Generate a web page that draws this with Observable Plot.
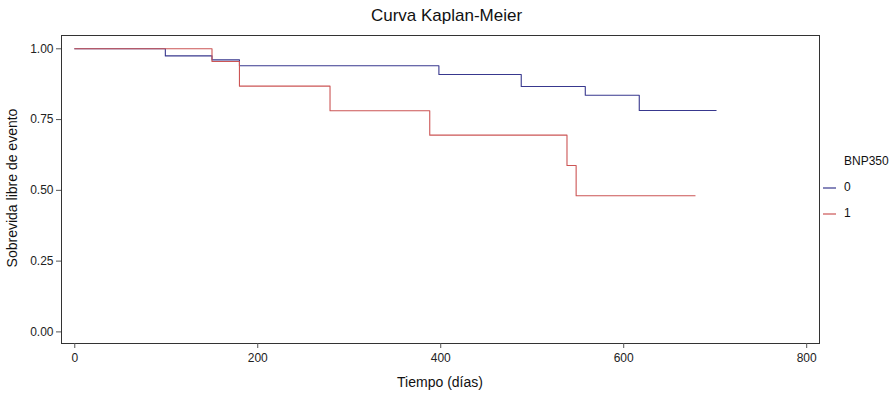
<!DOCTYPE html>
<html>
<head>
<meta charset="utf-8">
<script src="https://cdn.jsdelivr.net/npm/d3@7"></script>
<script src="https://cdn.jsdelivr.net/npm/@observablehq/plot@0.6"></script>
<style>
  html, body { margin: 0; padding: 0; background: #fff; }
  #wrap { position: relative; width: 893px; height: 401px; font-family: "Liberation Sans", Arial, sans-serif; color: #111; }
  .ov { position: absolute; white-space: nowrap; }
</style>
</head>
<body>
<div id="wrap"></div>
<script>
// Kaplan-Meier step data
const group0Time = [0, 99, 150, 180, 398, 488, 558, 617, 701];
const group0Surv = [1.0, 0.975, 0.961, 0.940, 0.909, 0.867, 0.836, 0.782, 0.782];
const group1Time = [0, 150, 180, 279, 388, 538, 548, 678];
const group1Surv = [1.0, 0.955, 0.868, 0.781, 0.695, 0.588, 0.481, 0.481];
const groups = ["0", "1"];
const groupColors = ["#38388e", "#cc5555"];
const xTicks = [0, 200, 400, 600, 800];
const yTicks = [0, 0.25, 0.5, 0.75, 1];
const titleText = "Curva Kaplan-Meier";
const xLabel = "Tiempo (días)";
const yLabel = "Sobrevida libre de evento";
const legendTitle = "BNP350";

const rows0 = group0Time.map((t, i) => ({t, s: group0Surv[i], g: groups[0]}));
const rows1 = group1Time.map((t, i) => ({t, s: group1Surv[i], g: groups[1]}));

const plot = Plot.plot({
  width: 893,
  height: 401,
  marginLeft: 61,
  marginRight: 74,
  marginTop: 35,
  marginBottom: 58,
  style: {fontFamily: '"Liberation Sans", Arial, sans-serif', fontSize: "12px", color: "#222", background: "#fff"},
  x: {domain: [-14.5, 814]},
  y: {domain: [-0.041, 1.047]},
  color: {domain: groups, range: groupColors},
  marks: [
    Plot.frame({stroke: "#333"}),
    Plot.axisX({ticks: xTicks, tickFormat: d => String(d), label: null, tickSize: 5, tickPadding: 5, stroke: "#555", fontSize: 12}),
    Plot.axisY({ticks: yTicks, tickFormat: d3.format(".2f"), label: null, tickSize: 5, tickPadding: 3, stroke: "#555", fontSize: 12}),
    Plot.line(rows0, {x: "t", y: "s", z: "g", stroke: "g", curve: "step-after", strokeWidth: 1.1}),
    Plot.line(rows1, {x: "t", y: "s", z: "g", stroke: "g", curve: "step-after", strokeWidth: 1.1})
  ]
});

const wrap = document.getElementById("wrap");
wrap.appendChild(plot);
plot.style.position = "absolute";
plot.style.left = "0px";
plot.style.top = "0px";

function addText(text, css) {
  const d = document.createElement("div");
  d.className = "ov";
  d.textContent = text;
  Object.assign(d.style, css);
  wrap.appendChild(d);
  return d;
}
// title
addText(titleText, {left: "0px", width: "893px", textAlign: "center", top: "6px", fontSize: "17px"});
// x label
addText(xLabel, {left: "340px", width: "200px", textAlign: "center", top: "374px", fontSize: "14px"});
// y label (rotated)
addText(yLabel, {left: "-88px", width: "200px", textAlign: "center", top: "180px", fontSize: "14px", transform: "rotate(-90deg)", transformOrigin: "50% 50%"});
// legend
addText(legendTitle, {left: "844px", top: "154px", fontSize: "12px"});
groups.forEach((g, i) => {
  const y = 188 + i * 26;
  const sw = document.createElementNS("http://www.w3.org/2000/svg", "svg");
  sw.setAttribute("width", "14");
  sw.setAttribute("height", "4");
  sw.style.position = "absolute";
  sw.style.left = "823px";
  sw.style.top = (y - 2) + "px";
  const ln = document.createElementNS("http://www.w3.org/2000/svg", "line");
  ln.setAttribute("x1", "0"); ln.setAttribute("x2", "13");
  ln.setAttribute("y1", "2"); ln.setAttribute("y2", "2");
  ln.setAttribute("stroke", groupColors[i]);
  ln.setAttribute("stroke-width", "1.2");
  sw.appendChild(ln);
  wrap.appendChild(sw);
  addText(g, {left: "844px", top: (y - 8) + "px", fontSize: "12px"});
});
</script>
</body>
</html>
